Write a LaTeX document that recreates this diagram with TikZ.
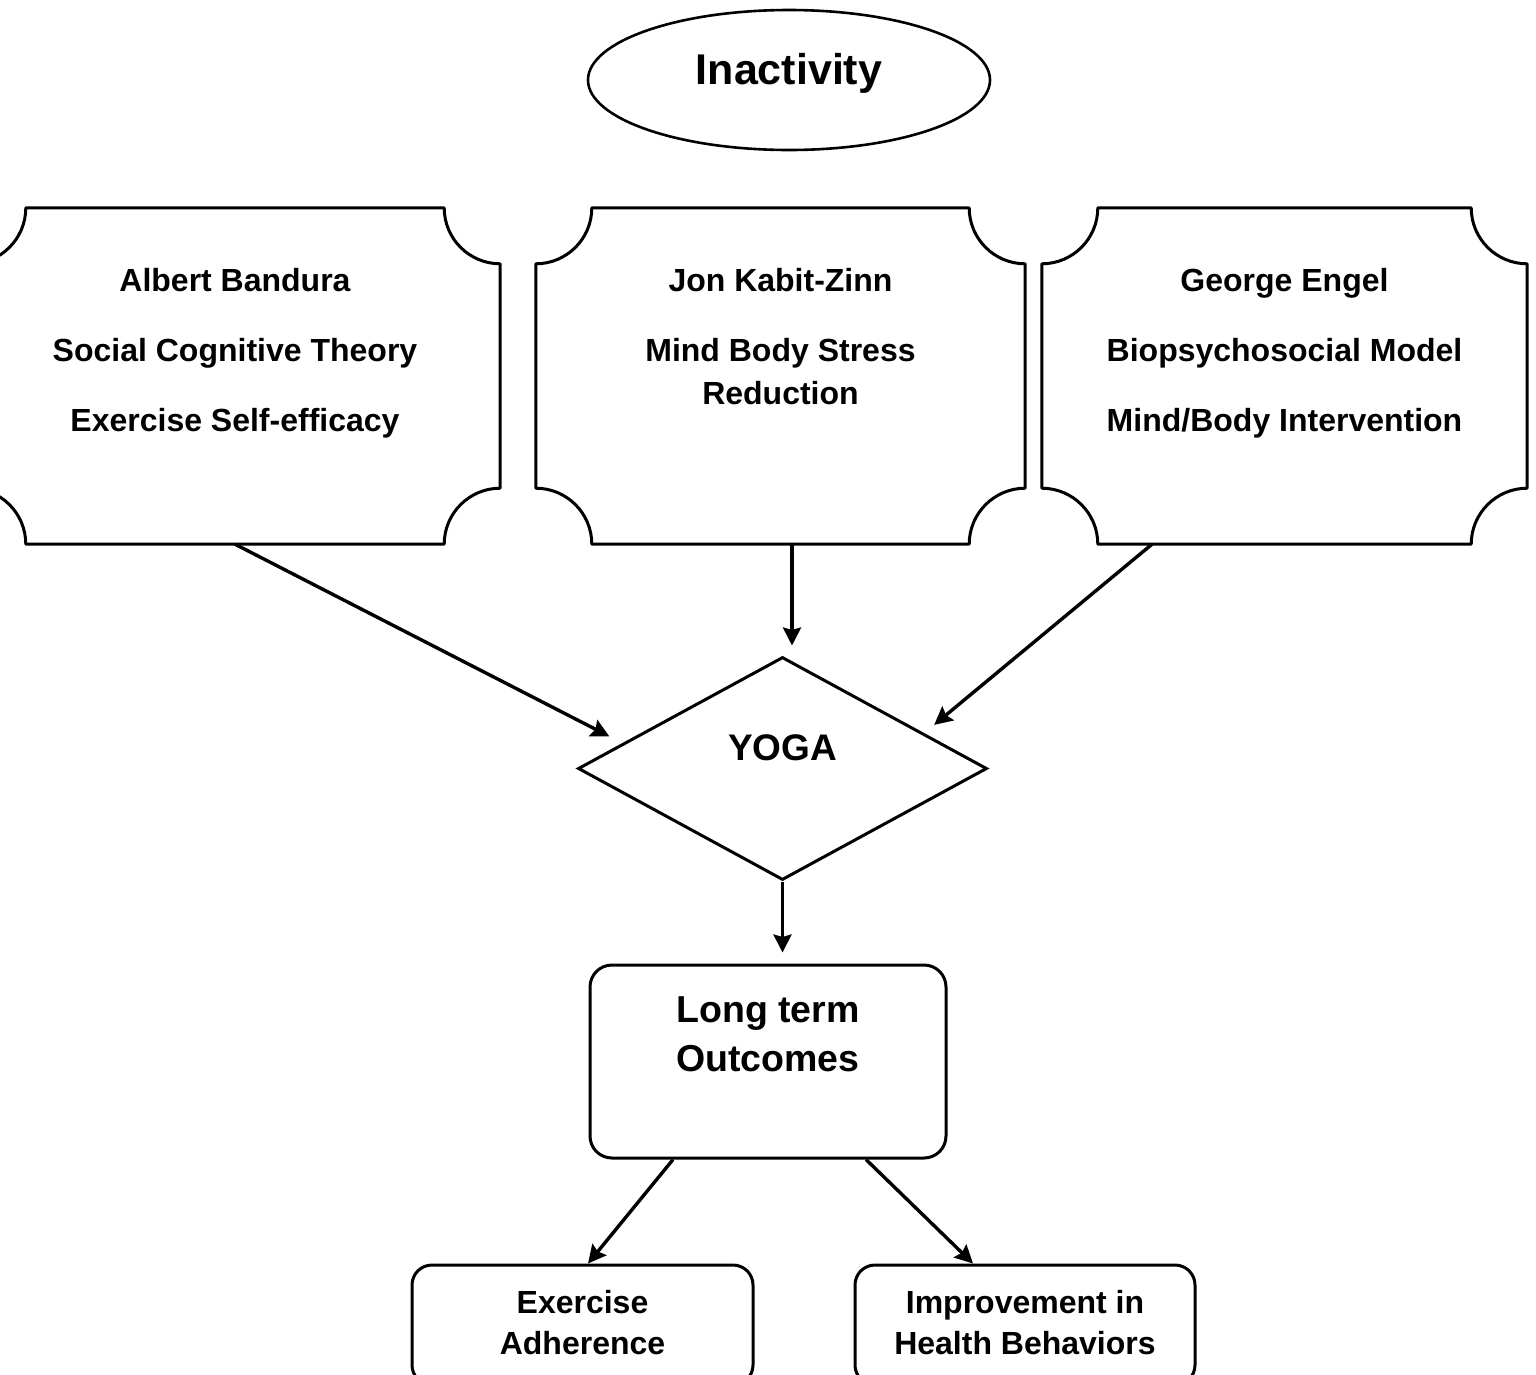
\documentclass[tikz,border=0pt]{standalone}
\usepackage{fontspec}
\setmainfont{Liberation Sans}
\usetikzlibrary{positioning,arrows.meta,shapes.geometric}
\newcommand{\boxtext}[4]{\parbox[c][#1][t]{#2}{\centering\rule{0pt}{#3}#4}}
\tikzset{
  theory/.style={inner sep=0pt,font=\fontsize{32}{43}\selectfont\bfseries},
  outline/.style={line width=3pt,line join=round},
  outcome/.style={draw,line width=3pt,inner sep=0pt,rounded corners=22pt},
  arr/.style={line width=3.4pt,-{Stealth[length=18pt,width=18pt,inset=2.5pt]}}
}
\begin{document}
\begin{tikzpicture}[x=1pt,y=-1pt]
\useasboundingbox (0,0) rectangle (1536,1374);
% top
\node[draw,ellipse,line width=2.6pt,minimum width=402pt,minimum height=140pt,
  font=\fontsize{43}{50}\selectfont\bfseries,text height=31pt,text depth=23pt]
  (inact) at (789,80) {Inactivity};
% the three theories
\node[theory] (bandura) at (235,376) {\boxtext{336pt}{530pt}{83pt}{Albert Bandura\\[27pt]Social Cognitive Theory\\[27pt]Exercise Self-efficacy}};
\node[theory] (kabat) at (780.5,376) {\boxtext{336pt}{489pt}{83pt}{Jon Kabit-Zinn\\[27pt]Mind Body Stress\\Reduction}};
\node[theory] (engel) at (1284.5,376) {\boxtext{336pt}{485pt}{83pt}{George Engel\\[27pt]Biopsychosocial Model\\[27pt]Mind/Body Intervention}};
\foreach \b in {bandura,kabat,engel}{
\draw[outline] ([xshift=56pt]\b.north west) -- ([xshift=-56pt]\b.north east)
  arc[start angle=180,end angle=270,radius=56pt] -- ([yshift=56pt]\b.south east)
  arc[start angle=90,end angle=180,radius=56pt] -- ([xshift=56pt]\b.south west)
  arc[start angle=0,end angle=90,radius=56pt] -- ([yshift=-56pt]\b.north west)
  arc[start angle=270,end angle=360,radius=56pt] -- cycle;
}
% yoga and outcomes
\node[draw,diamond,line width=3pt,minimum width=409pt,minimum height=223pt,inner sep=0pt,
  font=\fontsize{37}{44}\selectfont\bfseries,text height=27pt,text depth=44pt]
  (yoga) at (782.5,768.5) {YOGA};
\node[outcome,font=\fontsize{37.5}{49}\selectfont\bfseries] (lto) at (768,1061.5)
  {\boxtext{193pt}{356pt}{57pt}{Long term\\Outcomes}};
\node[outcome,rounded corners=20pt,font=\fontsize{32}{41}\selectfont\bfseries] (exad) at (582.5,1325)
  {\boxtext{120pt}{341pt}{48pt}{Exercise\\Adherence}};
\node[outcome,rounded corners=20pt,font=\fontsize{32}{41}\selectfont\bfseries] (health) at (1025,1325)
  {\boxtext{120pt}{340pt}{48pt}{Improvement in\\Health Behaviors}};
% arrows
\draw[arr,shorten >=15pt] (bandura.south) -- (yoga.171.5);
\draw[arr,shorten >=10pt] ([xshift=11.5pt]kabat.south) -- ([xshift=11.5pt]kabat.south |- yoga.north);
\draw[arr,shorten >=13pt] ([xshift=-132.5pt]engel.south) -- (yoga.14.4);
\draw[arr,shorten >=11pt] (yoga.south) -- (yoga.south |- lto.north);
\draw[arr] ([xshift=-95pt]lto.south) -- ([xshift=5.5pt]exad.north);
\draw[arr] ([xshift=98pt]lto.south) -- ([xshift=-52pt]health.north);
\end{tikzpicture}
\end{document}
